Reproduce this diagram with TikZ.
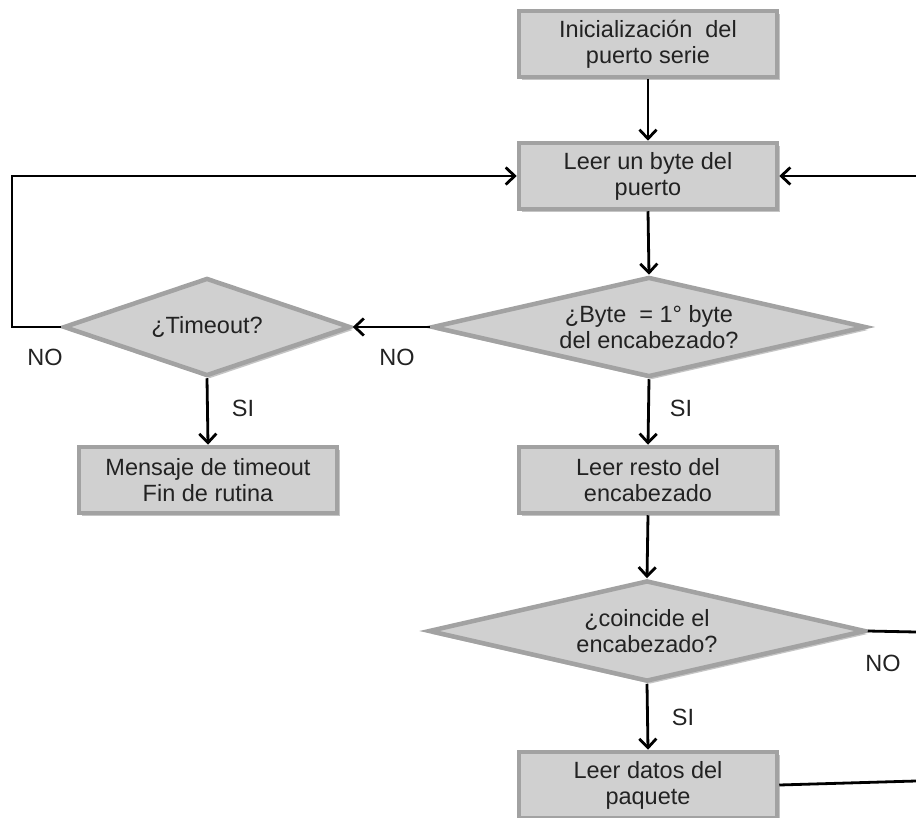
\documentclass[tikz,border=0pt]{standalone}
\usepackage{fontspec}
\setmainfont{Liberation Sans}
\usetikzlibrary{shapes.geometric,arrows.meta,shadows}
\definecolor{boxfill}{HTML}{D0D0D0}
\definecolor{boxline}{HTML}{A2A2A2}
\definecolor{txt}{HTML}{222222}
\tikzset{
  shad/.style={drop shadow={shadow xshift=3pt,shadow yshift=-3pt,fill=black!45,opacity=0.5}},
  procbox/.style={draw=boxline,fill=boxfill,line width=4.5pt,rectangle,inner sep=0pt,
    minimum width=258pt,minimum height=66pt,
    align=center,text=txt,font=\fontsize{23.5}{26}\selectfont,shad},
  decbox/.style={draw=boxline,fill=boxfill,line width=4.5pt,diamond,inner sep=0pt,
    align=center,text=txt,font=\fontsize{23.5}{26}\selectfont,shad},
  conn/.style={line width=2.8pt,black},
  arr/.style={conn,-{Straight Barb[length=9pt,width=17pt,line width=2.8pt]}},
  lbl/.style={text=txt,font=\fontsize{23.5}{26}\selectfont,inner sep=0pt}
}
\begin{document}
\begin{tikzpicture}[x=1pt,y=-1pt]
\useasboundingbox (0,0) rectangle (916,818);
% nodes
\node[procbox] (init) at (648,44) {Inicialización\ \ del\\puerto serie};
\node[procbox] (byte) at (648,176) {Leer un byte del\\puerto};
\node[decbox,aspect=4.34,minimum width=434pt,minimum height=100pt] (d1) at (649,327) {¿Byte\ \ = 1° byte\\del encabezado?};
\node[decbox,aspect=2.93,minimum width=287pt,minimum height=98pt] (tout) at (207,327) {¿Timeout?};
\node[procbox] (msg) at (208,480) {Mensaje de timeout\\Fin de rutina};
\node[procbox] (resto) at (648,480) {Leer resto del\\encabezado};
\node[decbox,aspect=4.33,minimum width=437pt,minimum height=101pt] (d2) at (647,631) {¿coincide el\\encabezado?};
\node[procbox] (datos) at (648,785) {Leer datos del\\paquete};
% free ends
\coordinate (lcorner) at (12,327);
\coordinate (rin) at (916,176);
\coordinate (rout1) at (916,632);
\coordinate (rout2) at (916,781);
% connectors
\draw[arr] (init.south) -- (byte.north);
\draw[arr] (byte.south) -- (d1.north);
\draw[arr] (d1.west) -- (tout.east);
\draw[arr] (tout.south) -- (msg.north);
\draw[arr] (d1.south) -- (resto.north);
\draw[arr] (resto.south) -- (d2.north);
\draw[arr] (d2.south) -- (datos.north);
\draw[arr] (tout.west) -- (lcorner) |- (byte.west);
\draw[arr] (rin) -- (byte.east);
\draw[conn] (d2.east) -- (rout1);
\draw[conn] (datos.east) -- (rout2);
% labels
\node[lbl] (l1) at (45,357) {NO};
\node[lbl] (l2) at (397,357) {NO};
\node[lbl] (l3) at (243,408) {SI};
\node[lbl] (l4) at (681,408) {SI};
\node[lbl] (l5) at (883,663) {NO};
\node[lbl] (l6) at (683,717) {SI};
\end{tikzpicture}
\end{document}
